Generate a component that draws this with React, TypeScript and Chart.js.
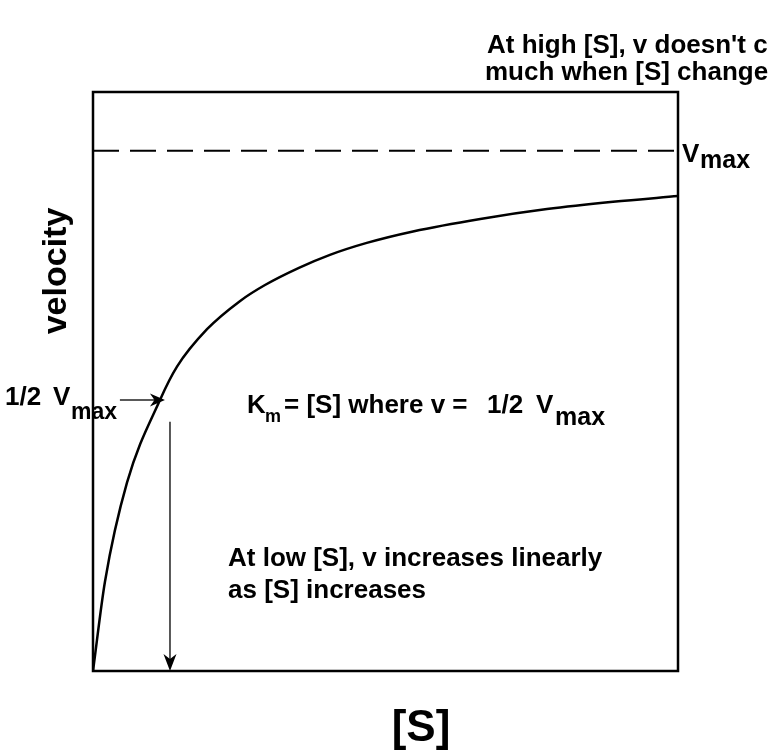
import React, { useEffect, useRef } from 'react';
import { Chart, registerables } from 'chart.js';

Chart.register(...registerables);

// ---- data ----
const S_VALUES = [0, 2.05, 5.81, 11.45, 14.36, 19.49, 25.1, 29.4, 35.2, 40.5, 46.8, 54.7, 66.2, 77.6, 88.9, 100];
const V_VALUES = [0, 0.172, 0.362, 0.521, 0.585, 0.657, 0.711, 0.742, 0.775, 0.8, 0.823, 0.845, 0.869, 0.888, 0.902, 0.913];
const VMAX_LINE = [1, 1];
const VMAX_X = [0, 100];
const S_MIN = 0;
const S_MAX = 100;
const V_MIN = 0;
const V_MAX_AXIS = 1.113;
const HALF_V_LEVEL = 0.521; // level of the "1/2 Vmax" arrow
const HALF_ARROW_FROM = 4.6; // [S] where the horizontal arrow starts
const HALF_ARROW_TO = 12.3; // [S] where its tip is
const KM_X = 13.16; // [S] of the vertical Km arrow
const KM_ARROW_TOP = 0.479;

const FONT = '"Liberation Sans", Arial, Helvetica, sans-serif';

function arrowHead(ctx: CanvasRenderingContext2D, x: number, y: number, angle: number, len: number, half: number) {
  ctx.save();
  ctx.translate(x, y);
  ctx.rotate(angle);
  ctx.beginPath();
  ctx.moveTo(0, 0);
  ctx.lineTo(-len, -half);
  ctx.lineTo(-len * 0.7, 0);
  ctx.lineTo(-len, half);
  ctx.closePath();
  ctx.fill();
  ctx.restore();
}

const decorPlugin = {
  id: 'decor',
  afterDatasetsDraw(chart: any) {
    const ctx: CanvasRenderingContext2D = chart.ctx;
    const { left, right, top, bottom } = chart.chartArea;
    const xs = chart.scales.x;
    const ys = chart.scales.y;
    ctx.save();
    // frame
    ctx.strokeStyle = '#000';
    ctx.lineWidth = 2.5;
    ctx.strokeRect(left, top, right - left, bottom - top);

    // horizontal arrow at 1/2 Vmax
    const hy = ys.getPixelForValue(HALF_V_LEVEL);
    const hx0 = xs.getPixelForValue(HALF_ARROW_FROM);
    const hx1 = xs.getPixelForValue(HALF_ARROW_TO);
    ctx.strokeStyle = '#222';
    ctx.fillStyle = '#000';
    ctx.lineWidth = 1.5;
    ctx.beginPath();
    ctx.moveTo(hx0, hy);
    ctx.lineTo(hx1 - 8, hy);
    ctx.stroke();
    arrowHead(ctx, hx1, hy, 0, 15, 6.5);

    // vertical arrow at Km
    const vx = xs.getPixelForValue(KM_X);
    const vy0 = ys.getPixelForValue(KM_ARROW_TOP);
    const vy1 = ys.getPixelForValue(0);
    ctx.beginPath();
    ctx.moveTo(vx, vy0);
    ctx.lineTo(vx, vy1 - 10);
    ctx.stroke();
    arrowHead(ctx, vx, vy1, Math.PI / 2, 17, 6.5);

    // texts
    ctx.fillStyle = '#000';
    ctx.textAlign = 'left';
    ctx.textBaseline = 'alphabetic';
    const main = `bold 26px ${FONT}`;
    const sub = `bold 23px ${FONT}`;
    const subBig = `bold 25px ${FONT}`;

    // top-right note
    ctx.font = main;
    ctx.fillText("At high [S], v doesn't change", 487, 53);
    ctx.fillText('much when [S] changes', 485, 80);

    // Vmax label on the right
    const vmy = ys.getPixelForValue(1);
    ctx.font = main;
    ctx.fillText('V', 682, vmy + 11);
    ctx.font = subBig;
    ctx.fillText('max', 700, vmy + 17);

    // 1/2 Vmax on the left
    ctx.font = main;
    ctx.fillText('1/2', 5, hy + 5);
    ctx.fillText('V', 53, hy + 5);
    ctx.font = sub;
    ctx.fillText('max', 71, hy + 19);

    // Km statement
    ctx.font = main;
    ctx.fillText('K', 247, 413);
    ctx.font = `bold 18px ${FONT}`;
    ctx.fillText('m', 265, 422);
    ctx.font = main;
    ctx.fillText('= [S] where v =', 284, 413);
    ctx.fillText('1/2', 487, 413);
    ctx.fillText('V', 536, 413);
    ctx.font = subBig;
    ctx.fillText('max', 555, 425);

    // low [S] note
    ctx.font = main;
    ctx.fillText('At low [S], v increases linearly', 228, 566);
    ctx.fillText('as [S] increases', 228, 598);

    // axis titles
    ctx.font = `bold 44px ${FONT}`;
    ctx.textAlign = 'center';
    ctx.fillText('[S]', 421, 741);

    ctx.save();
    ctx.translate(66, 271);
    ctx.rotate(-Math.PI / 2);
    ctx.font = `bold 34px ${FONT}`;
    ctx.textAlign = 'center';
    ctx.fillText('velocity', 0, 0);
    ctx.restore();

    ctx.restore();
  },
};

export default function App() {
  const ref = useRef<HTMLCanvasElement | null>(null);
  useEffect(() => {
    if (!ref.current) return;
    const chart = new Chart(ref.current, {
      type: 'line',
      data: {
        datasets: [
          {
            label: 'velocity',
            data: S_VALUES.map((s, i) => ({ x: s, y: V_VALUES[i] })),
            borderColor: '#000',
            borderWidth: 2.5,
            pointRadius: 0,
            cubicInterpolationMode: 'monotone',
            fill: false,
          },
          {
            label: 'Vmax',
            data: VMAX_X.map((s, i) => ({ x: s, y: VMAX_LINE[i] })),
            borderColor: '#000',
            borderWidth: 2,
            borderDash: [26, 11],
            pointRadius: 0,
            fill: false,
          },
        ],
      },
      options: {
        animation: false,
        responsive: false,
        layout: { padding: { left: 93, right: 91, top: 92, bottom: 83 } },
        plugins: { legend: { display: false }, tooltip: { enabled: false }, title: { display: false } },
        scales: {
          x: { type: 'linear', min: S_MIN, max: S_MAX, display: false },
          y: { type: 'linear', min: V_MIN, max: V_MAX_AXIS, display: false },
        },
      },
      plugins: [decorPlugin],
    });
    return () => chart.destroy();
  }, []);
  return (
    <div style={{ position: 'absolute', left: 0, top: 0, width: 769, height: 754, background: '#fff' }}>
      <canvas ref={ref} width={769} height={754} style={{ display: 'block' }} />
    </div>
  );
}
